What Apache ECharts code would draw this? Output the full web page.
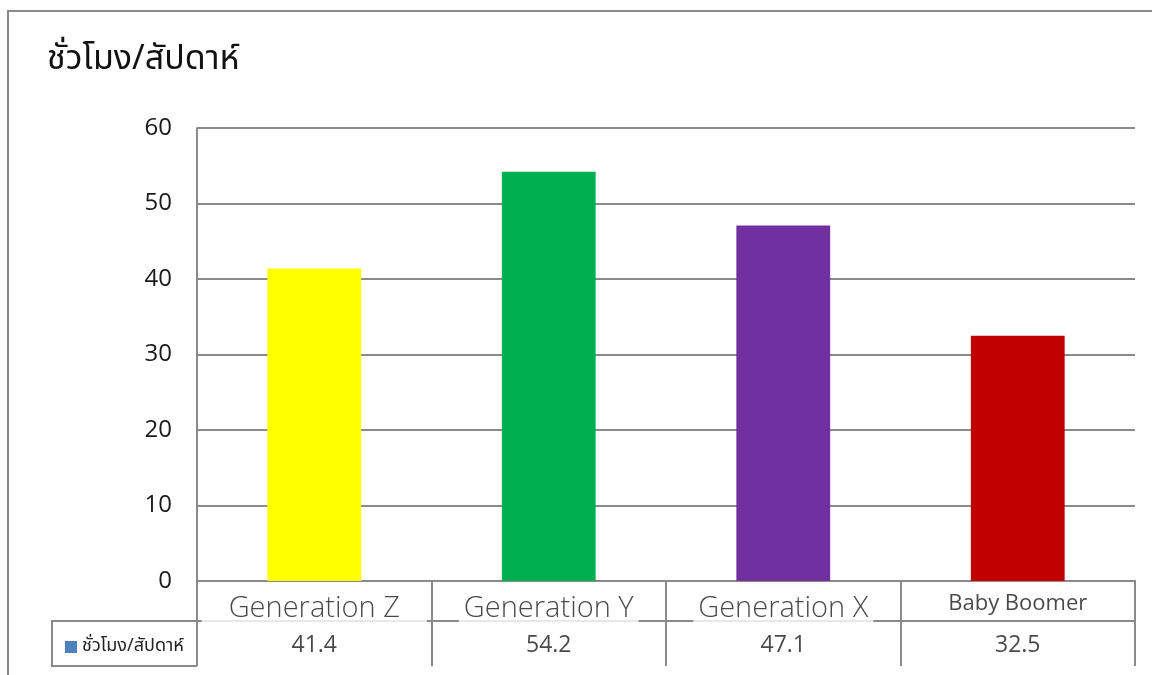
<!DOCTYPE html>
<html>
<head>
<meta charset="utf-8">
<script src="https://cdn.jsdelivr.net/npm/echarts@6/dist/echarts.min.js"></script>
<style>
  html, body { margin: 0; padding: 0; background: #fff; }
  #chart { width: 1152px; height: 675px; }
</style>
</head>
<body>
<div id="chart"></div>
<script>
// Weekly working hours by generation
const categories = ['Generation Z', 'Generation Y', 'Generation X', 'Baby Boomer'];
const hours = [41.4, 54.2, 47.1, 32.5];
const barColors = ['#FFFF00', '#00B050', '#7030A0', '#C00000'];
const seriesName = 'ชั่วโมง/สัปดาห์';
const yMin = 0, yMax = 60, yStep = 10;

const thaiFont = "Tahoma, 'Noto Sans Thai', 'Noto Sans', 'DejaVu Sans', sans-serif";
const latinFont = "'Open Sans', 'Noto Sans', sans-serif";
const lineColor = '#8a8a8a';

const chart = echarts.init(document.getElementById('chart'));

// data table below the plot: name row 581-621, value row 621-666
const nameRowY = 20, valueRowY = 62.5;

// white boxes behind the category names (per-cell padding)
const namePadding = [[0, 27, 6, 27], [0, 5, 6, 5], [0, 5, 6, 5], null];

chart.setOption({
  animation: false,
  backgroundColor: '#fff',
  title: {
    text: seriesName,
    left: 42, top: 40,
    textStyle: { fontFamily: thaiFont, fontSize: 34, fontWeight: 'normal', color: '#111' }
  },
  legend: {
    data: [{ name: seriesName, itemStyle: { color: '#4F81BD' } }],
    left: 60, top: 633,
    icon: 'rect', itemWidth: 12, itemHeight: 12, itemGap: 4,
    textStyle: { fontFamily: thaiFont, fontSize: 18, color: '#222' },
    selectedMode: false
  },
  grid: [
    { left: 197, right: 17, top: 128, bottom: 94 },
    { left: 197, right: 17, top: 581, height: 85 }
  ],
  xAxis: [
    {
      type: 'category', data: categories, gridIndex: 0,
      axisLine: { show: true, lineStyle: { color: lineColor, width: 2 } },
      axisTick: { show: false }, axisLabel: { show: false }, splitLine: { show: false }
    },
    {
      type: 'category', data: categories, gridIndex: 1, position: 'bottom',
      axisLine: { show: true, lineStyle: { color: lineColor, width: 2 } },
      axisTick: { show: false }, axisLabel: { show: false },
      splitLine: { show: true, lineStyle: { color: lineColor, width: 2 } }
    },
    {
      type: 'category', data: categories, gridIndex: 1, position: 'top', offset: -40,
      axisLine: { show: true, lineStyle: { color: lineColor, width: 2 } },
      axisTick: { show: false }, axisLabel: { show: false }, splitLine: { show: false }
    }
  ],
  yAxis: [
    {
      type: 'value', gridIndex: 0, min: yMin, max: yMax, interval: yStep,
      axisLine: { show: true, lineStyle: { color: lineColor, width: 2 } },
      axisTick: { show: false },
      axisLabel: { margin: 25, fontFamily: latinFont, fontSize: 24, color: '#1a1a1a' },
      splitLine: { show: true, lineStyle: { color: lineColor, width: 2 } }
    },
    { type: 'value', gridIndex: 1, min: 0, max: 85, inverse: true, show: false }
  ],
  series: [
    {
      name: seriesName,
      type: 'bar', xAxisIndex: 0, yAxisIndex: 0,
      barWidth: '40%',
      data: hours.map((v, i) => ({ value: v, itemStyle: { color: barColors[i] } }))
    },
    {
      type: 'scatter', xAxisIndex: 1, yAxisIndex: 1, symbolSize: 0, silent: true, z: 5,
      data: categories.map((c, i) => {
        const pad = namePadding[i];
        const label = {
          show: true, position: 'inside',
          formatter: c,
          fontFamily: latinFont,
          fontWeight: pad ? 300 : 'normal',
          fontSize: pad ? 29 : 22,
          lineHeight: pad ? 30 : 23,
          color: '#1a1a1a',
          offset: [0, pad ? 8 : 3]
        };
        if (pad) {
          label.backgroundColor = '#fff';
          label.padding = pad;
        }
        return { value: [i, nameRowY], label };
      })
    },
    {
      type: 'scatter', xAxisIndex: 1, yAxisIndex: 1, symbolSize: 0, silent: true, z: 5,
      data: hours.map((v, i) => ({ value: [i, valueRowY] })),
      label: {
        show: true, position: 'inside',
        formatter: p => hours[p.dataIndex].toFixed(1),
        fontFamily: latinFont, fontSize: 23, color: '#1a1a1a',
        offset: [0, 2]
      }
    }
  ],
  graphic: [
    // outer frame
    { type: 'rect', shape: { x: 8, y: 11, width: 1170, height: 700 }, style: { fill: 'none', stroke: lineColor, lineWidth: 2 }, silent: true },
    // legend cell of the data table
    { type: 'polyline', shape: { points: [[197, 621], [52, 621], [52, 666], [197, 666]] }, style: { fill: 'none', stroke: lineColor, lineWidth: 2 }, silent: true }
  ]
});
</script>
</body>
</html>
